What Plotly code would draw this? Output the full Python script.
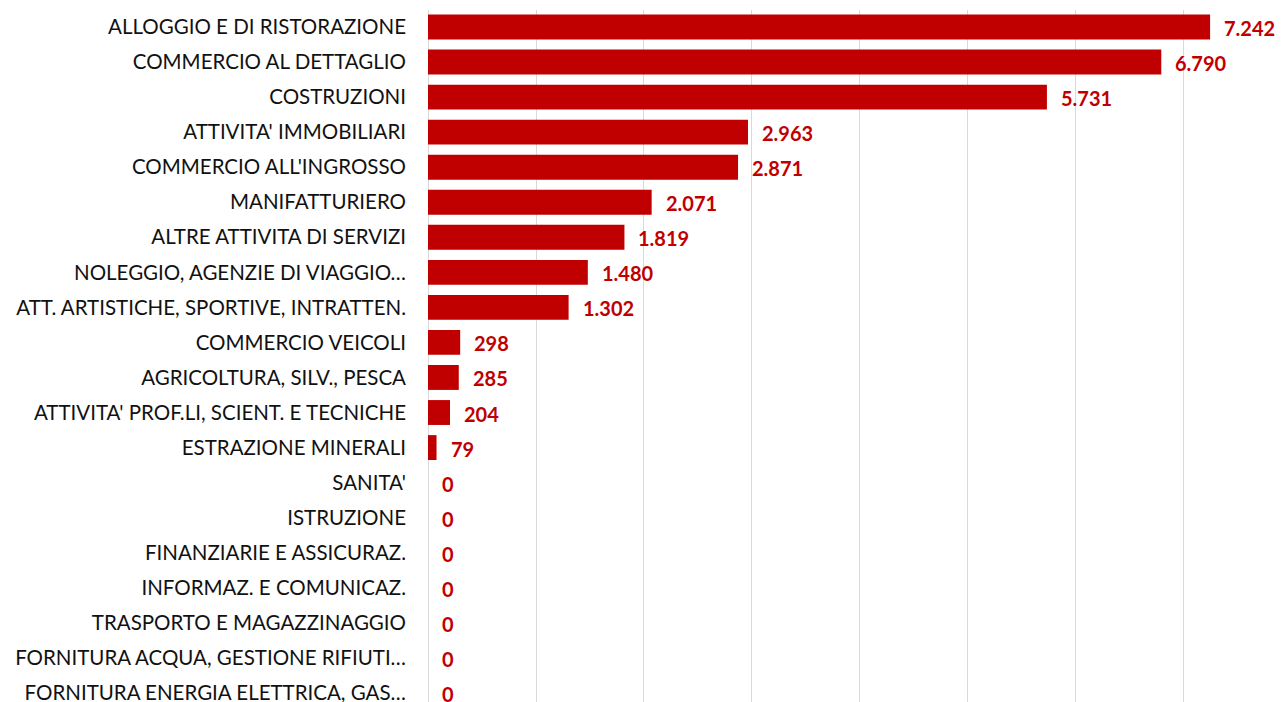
import plotly.graph_objects as go

categories = [
    "ALLOGGIO E DI RISTORAZIONE",
    "COMMERCIO AL DETTAGLIO",
    "COSTRUZIONI",
    "ATTIVITA' IMMOBILIARI",
    "COMMERCIO ALL'INGROSSO",
    "MANIFATTURIERO",
    "ALTRE ATTIVITA DI SERVIZI",
    "NOLEGGIO, AGENZIE DI VIAGGIO…",
    "ATT. ARTISTICHE, SPORTIVE, INTRATTEN.",
    "COMMERCIO VEICOLI",
    "AGRICOLTURA, SILV., PESCA",
    "ATTIVITA' PROF.LI, SCIENT. E TECNICHE",
    "ESTRAZIONE MINERALI",
    "SANITA'",
    "ISTRUZIONE",
    "FINANZIARIE E ASSICURAZ.",
    "INFORMAZ. E COMUNICAZ.",
    "TRASPORTO E MAGAZZINAGGIO",
    "FORNITURA ACQUA, GESTIONE RIFIUTI…",
    "FORNITURA ENERGIA ELETTRICA, GAS…",
]
values = [7242, 6790, 5731, 2963, 2871, 2071, 1819, 1480, 1302, 298, 285, 204, 79,
          0, 0, 0, 0, 0, 0, 0]

RED = "#C00000"
FONT = "Lato"

def fmt(v):
    return f"{v:,}".replace(",", ".")

fig = go.Figure(go.Bar(
    x=values, y=categories, orientation="h",
    marker=dict(color=RED, line=dict(width=0)),
    hoverinfo="skip",
))

for c, v in zip(categories, values):
    fig.add_annotation(x=v, y=c, text=f"<b>{fmt(v)}</b>", showarrow=False,
                       xanchor="left", yanchor="middle", xshift=12, yshift=-1,
                       font=dict(family=FONT, size=20, color=RED))

fig.update_layout(
    width=1275, height=694,
    margin=dict(l=420, r=0, t=2, b=0),
    plot_bgcolor="white", paper_bgcolor="white",
    bargap=0.29,
    showlegend=False,
    font=dict(family=FONT, size=20, color="#111111"),
    xaxis=dict(range=[0, 7917], dtick=1000, tick0=0, showticklabels=False,
               showgrid=True, gridcolor="#D9D9D9", gridwidth=1,
               zeroline=True, zerolinecolor="#D9D9D9", zerolinewidth=1,
               showline=False, fixedrange=True),
    yaxis=dict(categoryorder="array", categoryarray=categories,
               range=[19.26, -0.485], showgrid=False, zeroline=False,
               ticks="", ticklabelstandoff=21,
               tickfont=dict(family=FONT, size=20.5, color="#111111"),
               automargin=False),
)

fig.write_html("out.html")
